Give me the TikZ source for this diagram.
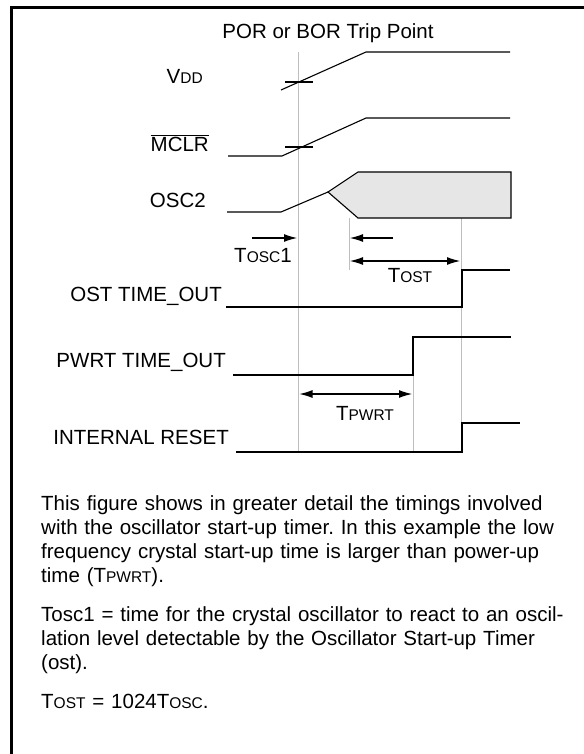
\documentclass[tikz,border=0pt]{standalone}
\usepackage{fontspec}
\setmainfont{Liberation Sans}
\usepackage{tikz}
\usetikzlibrary{arrows.meta}
\newcommand{\sm}[1]{{\fontsize{15.5}{18}\selectfont #1}}
\definecolor{gridgray}{RGB}{190,190,190}
\definecolor{oscfill}{RGB}{230,230,230}
\frenchspacing

\begin{document}
\begin{tikzpicture}[x=1pt,y=-1pt,font=\fontsize{20.5}{24}\selectfont,
    wave/.style={draw=black,line width=1.1pt},
    guide/.style={draw=gridgray,line width=1pt}]
\useasboundingbox (0,0) rectangle (583,754);
% frame
\draw[line width=2.4pt] (11.5,800) -- (11.5,7.5) -- (620,7.5);
\begin{scope}[every node/.style={inner sep=0pt}]
    \node (trip) at (328,33) {POR or BOR Trip Point};
    \node[anchor=east] (vdd) at (203,76) {V\sm{DD}};
    \node[anchor=east] (mclr) at (209,143) {$\overline{\mbox{MCLR}}$};
    \node[anchor=east] (osc) at (206,200) {OSC2};
    \node (tosclbl) at (263,256) {T\sm{OSC}1};
    \node (tostlbl) at (410,276) {T\sm{OST}};
    \node[anchor=east] (ost) at (222,296) {OST TIME\_OUT};
    \node[anchor=east] (pwrt) at (226,362) {PWRT TIME\_OUT};
    \node (tpwrtlbl) at (365,413) {T\sm{PWRT}};
    \node[anchor=east] (reset) at (229,437) {INTERNAL RESET};
    \node[anchor=north west,align=left,text width=545] (note) at (41,495) {%
    This figure shows in greater detail the timings involved\\
    with the oscillator start-up timer. In this example the low\\
    frequency crystal start-up time is larger than power-up\\
    time (T\sm{PWRT}).\\[15pt]
    Tosc1 = time for the crystal oscillator to react to an oscil-\\
    lation level detectable by the Oscillator Start-up Timer\\
    (ost).\\[15pt]
    T\sm{OST} = 1024T\sm{OSC}.};
\end{scope}
% guide lines
\path[guide] (298.5,52) -- (298.5,451);
\path[guide] (349,218) -- (349,270);
\path[guide] (461.5,218) -- (461.5,423);
\path[guide] (413,337) -- (413,451);
% waveforms
\path[wave] (281,90) -- (366,52) -- (510,52);
\path[wave] (285,82) -- (313,82);
\path[wave] (228,156) -- (282,156) -- (366,118) -- (510,118);
\path[wave] (285,147) -- (313,147);
\path[wave] (227,212) -- (281,212) -- (328,192);
\path[wave,fill=oscfill] (328,192) -- (358,172) -- (511,172) -- (511,218) -- (358,218) -- cycle;
\path[wave] (226,307) -- (462,307) -- (462,270) -- (510,270);
\path[wave] (233,375) -- (413,375) -- (413,337) -- (511,337);
\path[wave] (236,452) -- (462,452) -- (462,423) -- (520,423);
% timing arrows
\coordinate (osc1a) at (252,238);
\coordinate (osc1b) at (297,238);
\coordinate (ostin) at (393,238);
\coordinate (ostgo) at (350,238);
\coordinate (osta) at (350,261);
\coordinate (ostb) at (460,261);
\coordinate (pwrta) at (299.5,394);
\coordinate (pwrtb) at (412,394);
\begin{scope}[>={Latex[length=13pt,width=8pt]},
              every edge/.style={draw=black,line width=1.1pt}]
    \path [->] (osc1a) edge (osc1b);
    \path [->] (ostin) edge (ostgo);
    \path [<->] (osta) edge (ostb);
    \path [<->] (pwrta) edge (pwrtb);
\end{scope}
\end{tikzpicture}
\end{document}
